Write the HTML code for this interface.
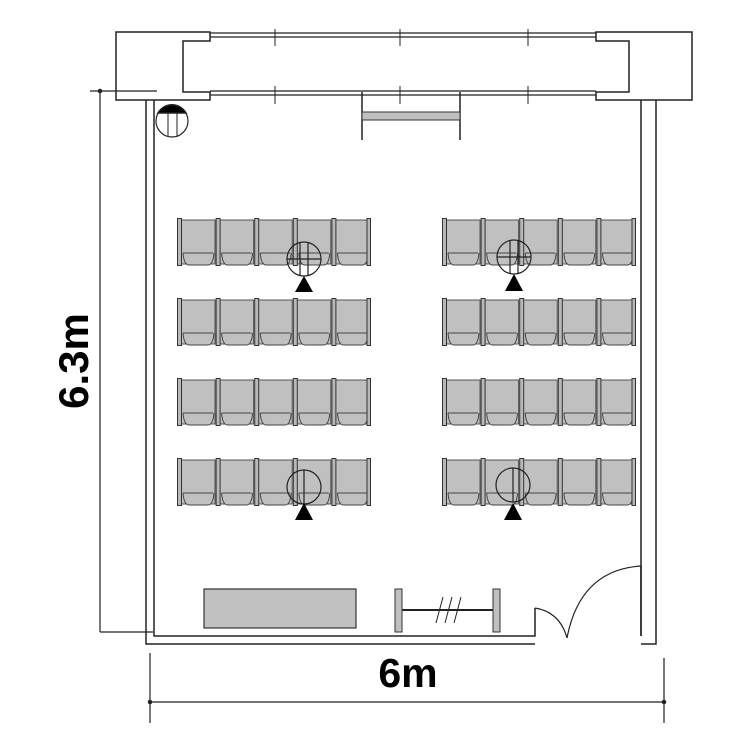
<!DOCTYPE html>
<html><head><meta charset="utf-8"><style>html,body{margin:0;padding:0;background:#fff}svg{display:block}</style></head>
<body>
<svg width="750" height="750" viewBox="0 0 750 750" xmlns="http://www.w3.org/2000/svg" fill="none" stroke="#222" stroke-width="1.5">
<defs>
<g id="ch">
<rect x="4" y="2" width="34" height="44" fill="#c0c0c0" stroke="#555" stroke-width="1"/>
<path d="M6 35 H36 M6 35 Q7 47 12 47 H31 Q36 47 37 35" stroke="#444" stroke-width="1" fill="#c0c0c0"/>
<rect x="0.5" y="0.5" width="4" height="47" fill="#b8b8b8" stroke="#333" stroke-width="1"/>
</g>
<g id="row">
<use href="#ch" x="0"/><use href="#ch" x="38.6"/><use href="#ch" x="77.2"/><use href="#ch" x="115.8"/><use href="#ch" x="154.4"/>
<rect x="190" y="0.5" width="3.5" height="47" fill="#b8b8b8" stroke="#333" stroke-width="1"/>
</g>
</defs>
<path d="M210 32 H116 V100 H210 V92 H183 V41 H210 Z"/>
<path d="M596 32 H692 V100 H596 V92 H629 V41 H596 Z"/>
<path d="M210 33 H596 M210 37 H596 M210 91 H596 M210 95 H596" stroke-width="1.2"/>
<path d="M275 29 V46 M400 29 V46 M528 29 V46 M275 86 V104 M400 86 V104 M528 86 V104" stroke-width="1"/>
<path d="M146 100 V636 M154 100 V636 H535 V608 M146 636 V644 H535"/>
<path d="M656 100 V644 H641 M641 100 V636"/>
<path d="M362 92 V140 M460 92 V140"/>
<rect x="362" y="112" width="98" height="8" fill="#c0c0c0" stroke="#333" stroke-width="1"/>
<circle cx="172" cy="121" r="16" fill="#fff" stroke-width="1.2"/>
<path d="M158 113 A16 16 0 0 1 186 113 Z" fill="#000"/>
<path d="M168 113 V137 M177 113 V137" stroke-width="1"/>
<use href="#row" x="177" y="218"/><use href="#row" x="177" y="298"/><use href="#row" x="177" y="378"/><use href="#row" x="177" y="458"/>
<use href="#row" x="442" y="218"/><use href="#row" x="442" y="298"/><use href="#row" x="442" y="378"/><use href="#row" x="442" y="458"/>
<g stroke-width="1.2">
<circle cx="304" cy="259" r="17"/><path d="M300 242 V276 M308 242 V276 M287 259 H321"/>
<circle cx="514" cy="257" r="17"/><path d="M510 240 V274 M518 240 V274 M497 257 H531"/>
<circle cx="304" cy="487" r="17"/><path d="M304 470 V504"/>
<circle cx="513" cy="485" r="17"/><path d="M513 468 V502"/>
</g>
<g fill="#000" stroke="none">
<path d="M304 276 L295 292 H313 Z"/><path d="M514 274 L505 291 H523 Z"/>
<path d="M304 503 L295 520 H313 Z"/><path d="M513 503 L504 520 H522 Z"/>
</g>
<rect x="204" y="589" width="152" height="39" fill="#c0c0c0" stroke="#333" stroke-width="1.2"/>
<path d="M398 610 H498" stroke-width="2"/>
<rect x="395" y="589" width="7" height="43" fill="#c0c0c0" stroke="#333" stroke-width="1"/>
<rect x="493" y="589" width="7" height="43" fill="#c0c0c0" stroke="#333" stroke-width="1"/>
<path d="M436 623 L443 597 M445 623 L452 597 M454 623 L461 597" stroke-width="1"/>
<path d="M535 608 Q560 612 567 638" stroke-width="1.2"/>
<path d="M641 566 V636" />
<path d="M641 566 Q580 570 567 638" stroke-width="1.2"/>
<path d="M100 91 V632 M90 91 H157 M100 632 H153" stroke-width="1.2"/>
<path d="M150 702 H664 M150 653 V723 M664 658 V723" stroke-width="1.2"/>
<circle cx="100" cy="91" r="1.5" fill="#222"/><circle cx="150" cy="702" r="1.5" fill="#222"/><circle cx="664" cy="702" r="1.5" fill="#222"/>
<text x="408" y="687" text-anchor="middle" font-family="Liberation Sans, sans-serif" font-weight="bold" font-size="41" fill="#000" stroke="none">6m</text>
<text transform="translate(88 361) rotate(-90)" x="0" y="0" text-anchor="middle" font-family="Liberation Sans, sans-serif" font-weight="bold" font-size="42" fill="#000" stroke="none">6.3m</text>
</svg>
</body></html>
